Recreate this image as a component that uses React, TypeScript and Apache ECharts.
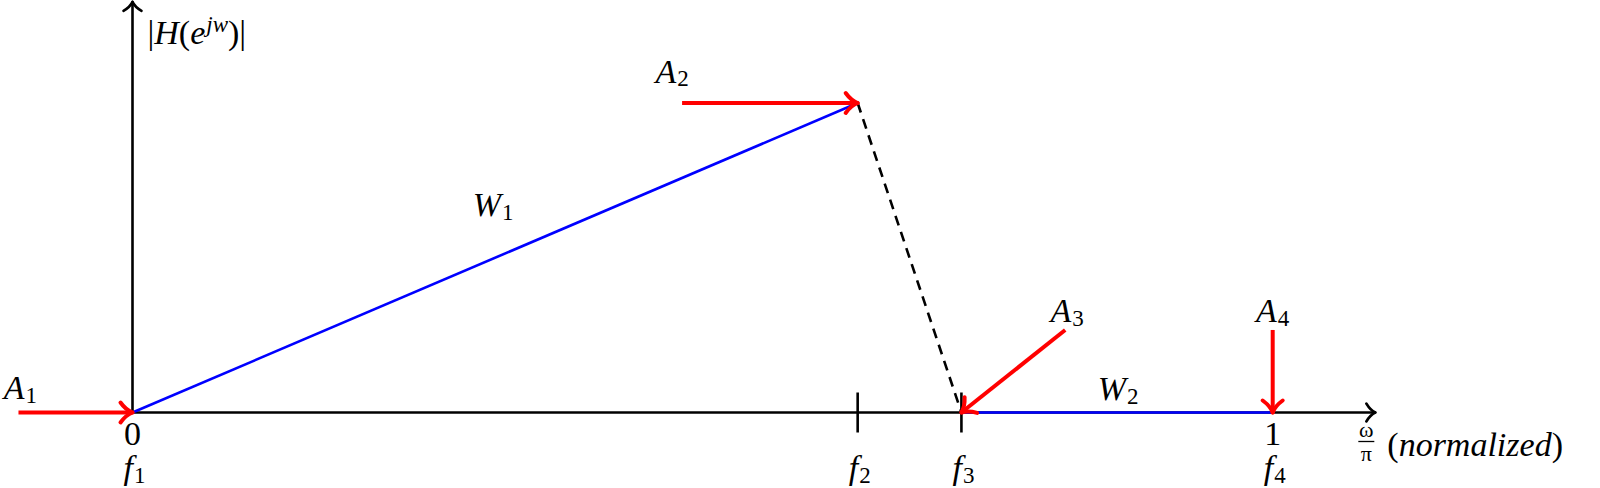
import React, { useEffect, useRef } from 'react';
import * as echarts from 'echarts';

// ---------------- data ----------------
// x: normalized frequency (omega / pi), y: magnitude (arbitrary units)
const bandEdges = [0, 0.636, 0.727, 1]; // f1..f4
const bandEdgeNames = ['1', '2', '3', '4']; // subscripts of f
const valueTicks = [0, 1];
const valueTickLabels = ['0', '1'];
const markedTicks = [0.636, 0.727];
const passbandPoints = [[0, 0], [0.636, 3]]; // W1
const transitionPoints = [[0.636, 3], [0.727, 0]];
const stopbandPoints = [[0.727, 0], [1, 0]]; // W2
const bandNames = ['1', '2']; // subscripts of W
const weightNames = ['1', '2', '3', '4']; // subscripts of A
const weightArrowStarts = [[-0.1, 0], [0.482, 3], [0.818, 0.8], [1, 0.8]];
const weightArrowEnds = [[0, 0], [0.636, 3], [0.727, 0], [1, 0]];
const xAxisSegment = [[0, 0], [1.09, 0]];
const yAxisSegment = [[0, 0], [0, 3.98]];

// ---------------- styles ----------------
const FONT = '"Liberation Serif", "DejaVu Serif", serif';
const MAIN = 34;
const SUB = 23;
const RICH: any = {
  i: { fontFamily: FONT, fontStyle: 'italic', fontSize: MAIN, lineHeight: 28, fill: '#000' },
  r: { fontFamily: FONT, fontSize: MAIN, lineHeight: 28, fill: '#000' },
  s: { fontFamily: FONT, fontSize: SUB, lineHeight: 18, padding: [15, 0, 0, 1], fill: '#000' },
  p: { fontFamily: FONT, fontStyle: 'italic', fontSize: SUB, lineHeight: 18, padding: [0, 0, 17, 1], fill: '#000' },
  fr: { fontFamily: FONT, fontSize: 22, lineHeight: 16, fill: '#000' },
};
// pixel offsets of labels from their anchor points
const weightLabelOffsets = [[2, -25], [-10, -32], [2, -19], [0, -19]];
const bandLabelOffsets = [[-2, -53], [1, -24]];

function arrow(p1: number[], p2: number[], color: string, width: number, L: number, W: number) {
  const dx = p2[0] - p1[0];
  const dy = p2[1] - p1[1];
  const len = Math.hypot(dx, dy) || 1;
  const ux = dx / len, uy = dy / len;
  const nx = -uy, ny = ux;
  const tx = p2[0], ty = p2[1];
  const arm = (s: number) => ({
    type: 'bezierCurve',
    shape: {
      x1: tx, y1: ty,
      x2: tx - ux * L + s * nx * W, y2: ty - uy * L + s * ny * W,
      cpx1: tx - ux * L * 0.55 + s * nx * W * 0.25, cpy1: ty - uy * L * 0.55 + s * ny * W * 0.25,
    },
    style: { stroke: color, lineWidth: width, fill: null, lineCap: 'round' },
  });
  return [
    {
      type: 'line',
      shape: { x1: p1[0], y1: p1[1], x2: tx - ux * width * 0.5, y2: ty - uy * width * 0.5 },
      style: { stroke: color, lineWidth: width },
    },
    arm(1),
    arm(-1),
  ];
}

function txt(x: number, y: number, text: string, align = 'center') {
  return {
    type: 'text',
    style: { x, y, text, rich: RICH, align, verticalAlign: 'middle', font: `${MAIN}px ${FONT}` },
  };
}

export default function App() {
  const ref = useRef<HTMLDivElement>(null);
  useEffect(() => {
    const chart = echarts.init(ref.current!, undefined, { renderer: 'svg' });
    const X0 = 132.5, X1 = 1272.7; // pixel of x=0 and x=1
    const Y0 = 412.5, Y3 = 103.0; // pixel of y=0 and y=3
    const xMin = -0.1, xMax = 1.25, yMin = -0.7, yMax = 3.98;
    const pxX = X1 - X0, pxY = (Y0 - Y3) / 3;
    const grid = {
      left: X0 + xMin * pxX,
      right: 1600 - (X0 + xMax * pxX),
      top: Y0 - yMax * pxY,
      bottom: 488 - (Y0 - yMin * pxY),
      containLabel: false,
      outerBoundsMode: 'none',
    };

    const option: any = {
      animation: false,
      backgroundColor: '#fff',
      grid,
      xAxis: { type: 'value', min: xMin, max: xMax, show: false },
      yAxis: { type: 'value', min: yMin, max: yMax, show: false },
      series: [
        {
          name: 'axes',
          type: 'custom',
          clip: false,
          z: 1,
          data: [0],
          renderItem: (params: any, api: any) => {
            const xa0 = api.coord(xAxisSegment[0]), xa1 = api.coord(xAxisSegment[1]);
            const ya0 = api.coord(yAxisSegment[0]), ya1 = api.coord(yAxisSegment[1]);
            const children: any[] = [
              ...arrow(xa0, xa1, '#000', 2.6, 9, 9),
              ...arrow(ya0, ya1, '#000', 2.6, 9, 9),
            ];
            markedTicks.forEach((v) => {
              const p = api.coord([v, 0]);
              children.push({
                type: 'line',
                shape: { x1: p[0], y1: p[1] - 20, x2: p[0], y2: p[1] + 20 },
                style: { stroke: '#000', lineWidth: 2.6 },
              });
            });
            return { type: 'group', children };
          },
        },
        {
          name: 'W1',
          type: 'line',
          data: passbandPoints,
          showSymbol: false,
          z: 3,
          lineStyle: { color: '#0000ff', width: 2.6 },
        },
        {
          name: 'transition',
          type: 'line',
          data: transitionPoints,
          showSymbol: false,
          z: 3,
          lineStyle: { color: '#000', width: 2.6, type: [10, 7] },
        },
        {
          name: 'W2',
          type: 'line',
          data: stopbandPoints,
          showSymbol: false,
          z: 3,
          lineStyle: { color: '#0000ff', width: 2.6 },
        },
        {
          name: 'weights',
          type: 'custom',
          clip: false,
          z: 5,
          data: weightArrowStarts.map((s, i) => [s[0], s[1], weightArrowEnds[i][0], weightArrowEnds[i][1]]),
          renderItem: (params: any, api: any) => {
            const p1 = api.coord([api.value(0), api.value(1)]);
            const p2 = api.coord([api.value(2), api.value(3)]);
            const off = weightLabelOffsets[params.dataIndex];
            return {
              type: 'group',
              children: [
                ...arrow(p1, p2, '#ff0000', 4, 12, 10),
                txt(p1[0] + off[0], p1[1] + off[1], `{i|A}{s|${weightNames[params.dataIndex]}}`),
              ],
            };
          },
        },
        {
          name: 'labels',
          type: 'custom',
          clip: false,
          z: 6,
          data: [0],
          renderItem: (params: any, api: any) => {
            const children: any[] = [];
            valueTicks.forEach((v, i) => {
              const p = api.coord([v, 0]);
              children.push(txt(p[0], p[1] + 21, `{r|${valueTickLabels[i]}}`));
            });
            bandEdges.forEach((v, i) => {
              const p = api.coord([v, 0]);
              children.push(txt(p[0] + 2, p[1] + 55, `{i|f}{s|${bandEdgeNames[i]}}`));
            });
            [passbandPoints, stopbandPoints].forEach((seg, i) => {
              const p = api.coord([(seg[0][0] + seg[1][0]) / 2, (seg[0][1] + seg[1][1]) / 2]);
              const off = bandLabelOffsets[i];
              children.push(txt(p[0] + off[0], p[1] + off[1], `{i|W}{s|${bandNames[i]}}`));
            });
            // y-axis title
            const yt = api.coord(yAxisSegment[1]);
            children.push(txt(yt[0] + 15, yt[1] + 31, '{r||}{i|H}{r|(}{i|e}{p|jw}{r|)}{r||}', 'left'));
            // x-axis title
            const xt = api.coord(xAxisSegment[1]);
            const fx = xt[0] - 9;
            children.push(txt(fx, xt[1] + 17, '{fr|ω}'));
            children.push({
              type: 'line',
              shape: { x1: fx - 8, y1: xt[1] + 29, x2: fx + 8, y2: xt[1] + 29 },
              style: { stroke: '#000', lineWidth: 1.3 },
            });
            children.push(txt(fx, xt[1] + 41, '{fr|π}'));
            children.push(txt(xt[0] + 12, xt[1] + 32, '{r|(}{i|normalized}{r|)}', 'left'));
            return { type: 'group', children };
          },
        },
      ],
    };
    chart.setOption(option);
    return () => chart.dispose();
  }, []);
  return (
    <div
      ref={ref}
      style={{ position: 'fixed', left: 0, top: 0, width: 1600, height: 488, background: '#fff' }}
    />
  );
}
